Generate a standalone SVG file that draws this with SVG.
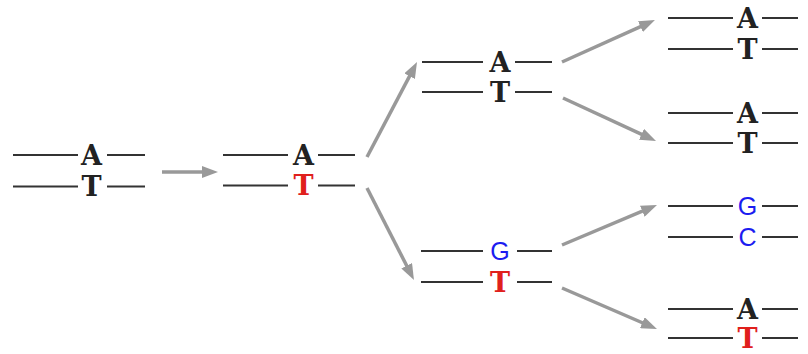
<svg xmlns="http://www.w3.org/2000/svg" width="808" height="354" viewBox="0 0 808 354">
<style>
.s{stroke:#333;stroke-width:2;fill:none}
.b{font-family:"DejaVu Serif","Liberation Serif",serif;font-weight:bold;font-size:27px;text-anchor:middle}
.g{font-family:"Liberation Sans",Arial,sans-serif;font-size:25px;text-anchor:middle;fill:#1c1cf0}
.k{fill:#222}
.r{fill:#e0201c}
.a{stroke:#999;stroke-width:3.5;fill:none;marker-end:url(#h)}
</style>
<defs>
<marker id="h" viewBox="0 0 16 12" refX="2" refY="6" markerWidth="16" markerHeight="12" markerUnits="userSpaceOnUse" orient="auto">
<path d="M0,0 L16,6 L0,12 z" fill="#999"/>
</marker>
</defs>
<rect width="808" height="354" fill="#fff"/>
<g id="connectors">
<line class="a" x1="162" y1="172" x2="204" y2="172"/>
<line class="a" x1="367" y1="157" x2="410.5" y2="74.4"/>
<line class="a" x1="367" y1="188" x2="407.6" y2="267.5"/>
<line class="a" x1="562" y1="62" x2="642.2" y2="25.8"/>
<line class="a" x1="563" y1="98" x2="643.3" y2="135.1"/>
<line class="a" x1="562" y1="245" x2="644.1" y2="210.4"/>
<line class="a" x1="562" y1="288" x2="644.1" y2="323.5"/>
</g>
<g id="n1">
<path class="s" d="M13,155H78M107,155H145M13,186.5H78M107,186.5H145"/>
<text class="b k" x="91.5" y="165">A</text>
<text class="b k" x="91.5" y="196">T</text>
</g>
<g id="n2">
<path class="s" d="M223,155H288M318,155H355M223,185.5H288M318,185.5H355"/>
<text class="b k" x="303.5" y="165">A</text>
<text class="b r" x="303.5" y="195">T</text>
</g>
<g id="n3">
<path class="s" d="M422,62H483M515,62H552M422,92H483M515,92H552"/>
<text class="b k" x="500" y="71.5">A</text>
<text class="b k" x="500" y="101.5">T</text>
</g>
<g id="n4">
<path class="s" d="M421,251H483M517,251H552M421,282H483M517,282H552"/>
<text class="g" x="500" y="260">G</text>
<text class="b r" x="500" y="291.5">T</text>
</g>
<g id="n5">
<path class="s" d="M668,18H733M762,18H798M668,49H733M762,49H798"/>
<text class="b k" x="747.5" y="27.5">A</text>
<text class="b k" x="747.5" y="58.5">T</text>
</g>
<g id="n6">
<path class="s" d="M668,113H733M762,113H798M668,143H733M762,143H798"/>
<text class="b k" x="747.5" y="122.5">A</text>
<text class="b k" x="747.5" y="152.5">T</text>
</g>
<g id="n7">
<path class="s" d="M668,206H733M762,206H798M668,237H733M762,237H798"/>
<text class="g" x="747.5" y="215">G</text>
<text class="g" x="747.5" y="246">C</text>
</g>
<g id="n8">
<path class="s" d="M668,309H733M762,309H798M668,338H733M762,338H798"/>
<text class="b k" x="747.5" y="318.5">A</text>
<text class="b r" x="747.5" y="347.5">T</text>
</g>
</svg>
